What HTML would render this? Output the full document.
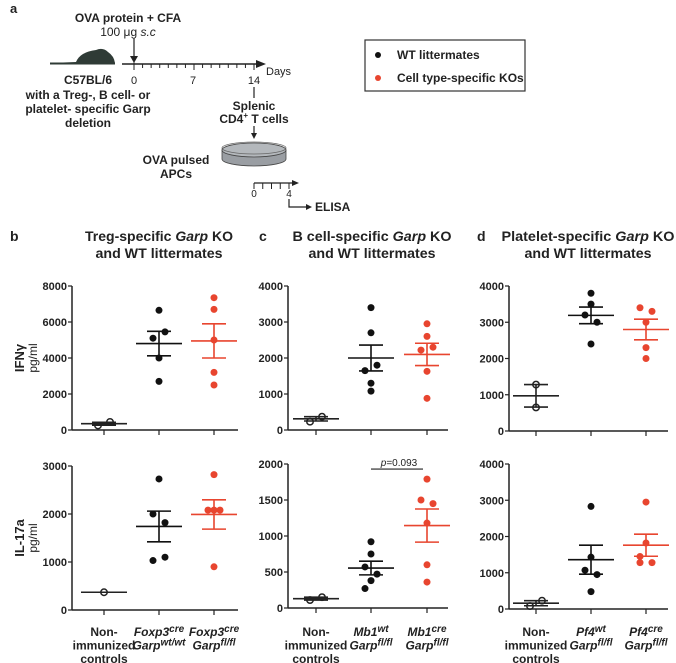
<!DOCTYPE html>
<html><head><meta charset="utf-8"><style>
html,body{margin:0;padding:0;background:#fff;}
svg{display:block;font-family:"Liberation Sans",sans-serif;}
</style></head><body>
<svg id="fig" width="676" height="663" viewBox="0 0 676 663" xmlns="http://www.w3.org/2000/svg">
<g fill="#222" stroke="none">
  <text x="10" y="13" font-size="13" font-weight="bold">a</text>
  <text x="128" y="22" font-size="12" font-weight="bold" text-anchor="middle">OVA protein + CFA</text>
  <text x="128" y="36" font-size="12" text-anchor="middle">100 μg <tspan font-style="italic">s.c</tspan></text>
  <path d="M50,63 L76,62 Q80,52 96,50 Q103,47 108,52 Q114,56 115,63 Z" fill="#2f3b36"/>
  <line x1="50" y1="63.5" x2="115" y2="63.5" stroke="#2f3b36" stroke-width="2"/>
  <line x1="134" y1="38" x2="134" y2="60" stroke="#222" stroke-width="1.2"/>
  <path d="M130,56 L134,63 L138,56 Z"/>
  <line x1="122" y1="64" x2="258" y2="64" stroke="#222" stroke-width="1.5"/>
  <path d="M256,60 L266,64 L256,68 Z"/>
  <g id="ticks1" stroke="#222" stroke-width="1"></g>
  <text x="134" y="84" font-size="11" text-anchor="middle">0</text>
  <text x="193" y="84" font-size="11" text-anchor="middle">7</text>
  <text x="254" y="84" font-size="11" text-anchor="middle">14</text>
  <text x="266" y="75" font-size="11">Days</text>
  <g font-size="12" font-weight="bold" text-anchor="middle">
    <text x="88" y="84">C57BL/6</text>
    <text x="88" y="99">with a Treg-, B cell- or</text>
    <text x="88" y="113">platelet- specific Garp</text>
    <text x="88" y="127">deletion</text>
  </g>
  <line x1="254" y1="87" x2="254" y2="98" stroke="#222" stroke-width="1.2"/>
  <text x="254" y="110" font-size="12" font-weight="bold" text-anchor="middle">Splenic</text>
  <text x="254" y="123" font-size="12" font-weight="bold" text-anchor="middle">CD4<tspan font-size="8" dy="-5">+</tspan><tspan dy="5"> T cells</tspan></text>
  <line x1="254" y1="126" x2="254" y2="136" stroke="#222" stroke-width="1.2"/>
  <path d="M251,133 L254,139 L257,133 Z"/>
  <g>
    <path d="M222,150 L222,159 A32,7 0 0 0 286,159 L286,150 Z" fill="#9a9ea3" stroke="#444" stroke-width="0.8"/>
    <ellipse cx="254" cy="150" rx="32" ry="7" fill="#b4b8bc" stroke="#444" stroke-width="0.8"/>
    <ellipse cx="254" cy="148" rx="32" ry="6" fill="none" stroke="#666" stroke-width="0.8"/>
  </g>
  <text x="176" y="164" font-size="12" font-weight="bold" text-anchor="middle">OVA pulsed</text>
  <text x="176" y="178" font-size="12" font-weight="bold" text-anchor="middle">APCs</text>
  <line x1="254" y1="183" x2="293" y2="183" stroke="#222" stroke-width="1.2"/>
  <path d="M292,180 L299,183 L292,186 Z"/>
  <line x1="254" y1="183" x2="254" y2="189" stroke="#222" stroke-width="1"/>
  <g id="ticks2" stroke="#222" stroke-width="1"></g>
  <text x="254" y="197" font-size="10" text-anchor="middle">0</text>
  <text x="289" y="197" font-size="10" text-anchor="middle">4</text>
  <path d="M289,199 L289,207 L308,207" fill="none" stroke="#222" stroke-width="1.2"/>
  <path d="M306,204 L312,207 L306,210 Z"/>
  <text x="315" y="211" font-size="12" font-weight="bold">ELISA</text>
</g>
<g>
  <rect x="365" y="40" width="160" height="51" fill="#fff" stroke="#333" stroke-width="1.2"/>
  <circle cx="378" cy="55" r="3" fill="#111"/>
  <text x="397" y="59" font-size="12" font-weight="bold" fill="#222">WT littermates</text>
  <circle cx="378" cy="78" r="3" fill="#e8452f"/>
  <text x="397" y="82" font-size="12" font-weight="bold" fill="#222">Cell type-specific KOs</text>
</g>
<g id="charts"></g>
</svg>
<script>
// ---- data ----
const panelTitles = [["Treg-specific ","Garp"," KO"],["B cell-specific ","Garp"," KO"],["Platelet-specific ","Garp"," KO"]];
const panelLetters = ["b","c","d"];
const xLabelsB = [["Non-","immunized","controls"],["Foxp3^cre","Garp^wt/wt"],["Foxp3^cre","Garp^fl/fl"]];
const xLabelsC = [["Non-","immunized","controls"],["Mb1^wt","Garp^fl/fl"],["Mb1^cre","Garp^fl/fl"]];
const xLabelsD = [["Non-","immunized","controls"],["Pf4^wt","Garp^fl/fl"],["Pf4^cre","Garp^fl/fl"]];
const ticksB_ifn = [0,2000,4000,6000,8000];
const ticksB_il = [0,1000,2000,3000];
const ticksC_ifn = [0,1000,2000,3000,4000];
const ticksC_il = [0,500,1000,1500,2000];
const ticksD_ifn = [0,1000,2000,3000,4000];
const ticksD_il = [0,1000,2000,3000,4000];
// points per group: [ctrl, wt, ko]
const b_ifn_pts = [[250,450],[6650,5450,5100,4000,2700],[7350,6700,5000,3200,2500]];
const b_ifn_mean = [350,4800,4950];
const b_ifn_sem = [80,680,950];
const b_il_pts = [[370],[2730,2000,1820,1100,1030],[2820,2080,2080,2080,900]];
const b_il_mean = [370,1740,1990];
const b_il_sem = [0,320,305];
const c_ifn_pts = [[230,370],[3400,2700,1800,1650,1300,1080],[2950,2600,2300,2220,1630,880]];
const c_ifn_mean = [310,2000,2100];
const c_ifn_sem = [60,360,310];
const c_il_pts = [[110,150],[920,750,570,470,380,270],[1790,1500,1450,1180,600,360]];
const c_il_mean = [130,555,1145];
const c_il_sem = [20,95,230];
const d_ifn_pts = [[1280,650],[3800,3500,3200,3000,2400],[3400,3300,3000,2300,2000]];
const d_ifn_mean = [970,3190,2800];
const d_ifn_sem = [310,230,285];
const d_il_pts = [[80,230],[2830,1430,1070,950,480],[2950,1820,1450,1280,1280]];
const d_il_mean = [160,1360,1760];
const d_il_sem = [70,400,305];
// jitter slots (-1..1) per point
const jitC = [[-1,1],[0,0,1,-1,0,0],[0,0,1,-1,0,0]];
const jitC_il = [[-1,1],[0,0,-1,1,0,-1],[0,-1,1,0,0,0]];
const jitD = [[0,0],[0,0,-1,1,0],[-1,1,0,0,0]];
const jitD_il = [[-1,1],[0,0,-1,1,0],[0,0,-1,1,-1]];
const jitB = [[-1,1],[0,1,-1,0,0],[0,0,0,0,0]];
const jitBil2 = [[0],[0,-1,1,1,-1],[0,-1,0,1,0]];
const pValue = "=0.093";

const NS="http://www.w3.org/2000/svg";
const root=document.getElementById('charts');
function mk(tag,attrs,parent){const e=document.createElementNS(NS,tag);for(const k in attrs)e.setAttribute(k,attrs[k]);(parent||root).appendChild(e);return e;}
(function(){const g1=document.getElementById('ticks1');for(let i=0;i<=14;i++){const x=134+i*(120/14);mk('line',{x1:x,y1:64,x2:x,y2:(i%7==0?70:68)},g1);}
const g2=document.getElementById('ticks2');for(let i=0;i<=4;i++){const x=254+i*(35/4);mk('line',{x1:x,y1:183,x2:x,y2:189},g2);}
mk('line',{x1:134,y1:64,x2:134,y2:58},g1);})();

const colors=["#222","#111","#e8452f"];
function chart(name,ax,x0,x1,yTop,yBot,ticks,pts,mean,sem,jitter,cats){
  const g=mk('g',{});
  
  
  const ymax=ticks[ticks.length-1];
  const Y=v=>yBot-(v/ymax)*(yBot-yTop);
  const X=i=>cats[i];
  const ya=mk('line',{x1:ax,y1:yTop,x2:ax,y2:yBot,stroke:'#222','stroke-width':1.5},g);
  
  
  const xa=mk('line',{x1:ax,y1:yBot,x2:x1,y2:yBot,stroke:'#222','stroke-width':1.5},g);
  
  
  ticks.forEach(t=>{mk('line',{x1:ax-4,y1:Y(t),x2:ax,y2:Y(t),stroke:'#222','stroke-width':1.2},g);
    const tx=mk('text',{x:ax-5,y:Y(t)+4,'font-size':11,'font-weight':'bold','text-anchor':'end',fill:'#222'},g);tx.textContent=t;
    
    });
  for(let i=0;i<3;i++){mk('line',{x1:X(i),y1:yBot,x2:X(i),y2:yBot+5,stroke:'#222','stroke-width':1.2},g);}
  for(let i=0;i<3;i++){
    const c=colors[i];const cx=X(i);
    const my=Y(mean[i]);
    const ml=mk('line',{x1:cx-23,y1:my,x2:cx+23,y2:my,stroke:c,'stroke-width':1.6},g);
    
    
    if(sem[i]>0){const a=Y(mean[i]+sem[i]),b=Y(mean[i]-sem[i]);
      const eb=mk('path',{d:`M${cx},${a}L${cx},${b}M${cx-12},${a}L${cx+12},${a}M${cx-12},${b}L${cx+12},${b}`,stroke:c,'stroke-width':1.6,fill:'none'},g);
      
      }
    pts[i].forEach((v,k)=>{const px=cx+jitter[i][k]*6;
      const p=i==0?mk('circle',{cx:px,cy:Y(v),r:3.2,fill:'none',stroke:'#222','stroke-width':1.5},g):mk('circle',{cx:px,cy:Y(v),r:3.5,fill:c},g);
      
      });
  }
  return {g,Y};
}
function xlabels(cats,labels){
  labels.forEach((lines,i)=>{
    const t=mk('text',{x:cats[i],y:636,'font-size':12,'font-weight':'bold','text-anchor':'middle',fill:'#222'});
    
    
    lines.forEach((ln,j)=>{
      const ts=mk('tspan',{x:cats[i],y:636+j*13.5},t);
      if(ln.indexOf('^')>=0){const [a,b]=ln.split('^');
        const s1=mk('tspan',{'font-style':'italic'},ts);s1.textContent=a;
        const s2=mk('tspan',{'font-style':'italic','font-size':10,dy:-4},ts);s2.textContent=b;
      } else ts.textContent=ln;
    });
  });
}
const catsB=[104,159,214], catsC=[316,371,427], catsD=[536,591,646];
chart('ifn-chart-treg',72,72,238,286,430,ticksB_ifn,b_ifn_pts,b_ifn_mean,b_ifn_sem,jitB,catsB);
chart('il17-chart-treg',72,72,238,466,610,ticksB_il,b_il_pts,b_il_mean,b_il_sem,jitBil2,catsB);
chart('ifn-chart-bcell',288,288,448,286,430,ticksC_ifn,c_ifn_pts,c_ifn_mean,c_ifn_sem,jitC,catsC);
const cil=chart('il17-chart-bcell',288,288,448,464,608,ticksC_il,c_il_pts,c_il_mean,c_il_sem,jitC_il,catsC);
chart('ifn-chart-platelet',509,509,668,286,431,ticksD_ifn,d_ifn_pts,d_ifn_mean,d_ifn_sem,jitD,catsD);
chart('il17-chart-platelet',509,509,668,464,609,ticksD_il,d_il_pts,d_il_mean,d_il_sem,jitD_il,catsD);
const pb=mk('line',{x1:catsC[1],y1:cil.Y(1930),x2:catsC[2]-4,y2:cil.Y(1930),stroke:'#222','stroke-width':1.2});


const pt=mk('text',{x:(catsC[1]+catsC[2])/2,y:cil.Y(1930)-3,'font-size':10,'text-anchor':'middle',fill:'#222'});


const pi=mk('tspan',{'font-style':'italic'},pt);pi.textContent='p';
const pr=mk('tspan',{},pt);pr.textContent=pValue;
xlabels(catsB,xLabelsB);xlabels(catsC,xLabelsC);xlabels(catsD,xLabelsD);
const titleX=[159,372,588], letterX=[10,259,477], titleW=[148,159,173];
panelTitles.forEach((t,i)=>{
  const l=mk('text',{x:letterX[i],y:241,'font-size':14,'font-weight':'bold',fill:'#222'});l.textContent=panelLetters[i];
  
  
  const tt=mk('text',{x:titleX[i],y:241,'font-size':14,'font-weight':'bold','text-anchor':'middle',fill:'#222',textLength:titleW[i],lengthAdjust:'spacingAndGlyphs'});
  
  
  const a=mk('tspan',{},tt);a.textContent=t[0];
  const b=mk('tspan',{'font-style':'italic'},tt);b.textContent=t[1];
  const c=mk('tspan',{},tt);c.textContent=t[2];
  const t2=mk('text',{x:titleX[i],y:258,'font-size':14,'font-weight':'bold','text-anchor':'middle',fill:'#222',textLength:127,lengthAdjust:'spacingAndGlyphs'});t2.textContent='and WT littermates';
  
  
});
[["IFNγ",358],["IL-17a",538]].forEach(([s,cy])=>{
  const a=mk('text',{x:0,y:0,'font-size':13,'font-weight':'bold','text-anchor':'middle',fill:'#222',transform:`translate(24,${cy}) rotate(-90)`});a.textContent=s;
  
  
  const b=mk('text',{x:0,y:0,'font-size':12,'text-anchor':'middle',fill:'#222',transform:`translate(37,${cy}) rotate(-90)`});b.textContent='pg/ml';
  
  
});
</script>
</body></html>
